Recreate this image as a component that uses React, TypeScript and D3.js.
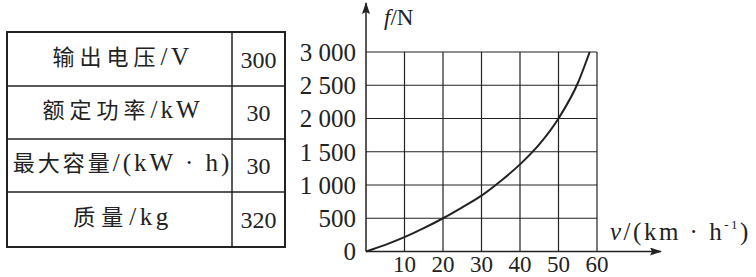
import React from "react";
import * as d3 from "d3";

const tableNames = ["输出电压", "额定功率", "最大容量", "质量"];
const tableUnits = ["/V", "/kW", "/(kW · h)", "/kg"];
const tableValues = ["300", "30", "30", "320"];

const speeds = [0, 5, 10, 15, 20, 25, 30, 35, 40, 45, 50, 55, 58.1];
const forces = [0, 100, 215, 350, 500, 665, 840, 1060, 1310, 1610, 2000, 2530, 3000];

const xTicks = [10, 20, 30, 40, 50, 60];
const yTicks = [0, 500, 1000, 1500, 2000, 2500, 3000];
const yTickLabels = ["0", "500", "1 000", "1 500", "2 000", "2 500", "3 000"];

const INK = "#222";
const SERIF = "'Liberation Serif', 'Times New Roman', serif";
const CJK = "'Noto Sans CJK SC', sans-serif";

export default function App() {
  const W = 756, H = 277;
  const x = d3.scaleLinear().domain([0, 60]).range([366, 597]);
  const y = d3.scaleLinear().domain([0, 3000]).range([251.5, 52]);

  const line = d3
    .line<number>()
    .x((_, i) => x(speeds[i]))
    .y((d) => y(d))
    .curve(d3.curveMonotoneX);

  // table geometry
  const tL = 7, tR = 285, tDiv = 232;
  const rowEdges = [32, 86, 139, 192, 247];
  const nameSpacing = [5, 5, 3, 6];
  const unitSpacing = [3.5, 3, 3, 3.5];

  return (
    <svg width={W} height={H} style={{ position: "absolute", left: 0, top: 0, background: "#fff" }}>
      <defs>
        <marker id="arr" viewBox="0 0 12 8" refX="11" refY="4" markerWidth="12" markerHeight="8" markerUnits="userSpaceOnUse" orient="auto">
          <path d="M0,0 L12,4 L0,8 L2,4 Z" fill={INK} />
        </marker>
      </defs>

      {/* Table */}
      <rect x={tL} y={rowEdges[0]} width={tR - tL} height={rowEdges[4] - rowEdges[0]} fill="none" stroke={INK} strokeWidth={2} />
      <line x1={tDiv} x2={tDiv} y1={rowEdges[0]} y2={rowEdges[4]} stroke={INK} strokeWidth={1.5} />
      {rowEdges.slice(1, 4).map((r, i) => (
        <line key={i} x1={tL} x2={tR} y1={r} y2={r} stroke={INK} strokeWidth={1.5} />
      ))}
      {tableNames.map((t, i) => {
        const cy = (rowEdges[i] + rowEdges[i + 1]) / 2;
        return (
          <text key={"l" + i} x={(tL + tDiv) / 2 + 3} y={cy} dy="0.36em" textAnchor="middle" fill={INK}>
            <tspan fontFamily={CJK} fontSize={22} letterSpacing={nameSpacing[i]}>{t}</tspan>
            <tspan fontFamily={SERIF} fontSize={25} letterSpacing={unitSpacing[i]}>{tableUnits[i]}</tspan>
          </text>
        );
      })}
      {tableValues.map((t, i) => {
        const cy = (rowEdges[i] + rowEdges[i + 1]) / 2;
        return (
          <text key={"v" + i} x={(tDiv + tR) / 2} y={cy} dy="0.36em" textAnchor="middle"
            fontFamily={SERIF} fontSize={24} fill={INK}>{t}</text>
        );
      })}

      {/* Grid */}
      {xTicks.map((t) => (
        <line key={"gx" + t} x1={x(t)} x2={x(t)} y1={y(0)} y2={y(3000)} stroke={INK} strokeWidth={1.2} />
      ))}
      {yTicks.slice(1).map((t) => (
        <line key={"gy" + t} x1={x(0)} x2={x(60)} y1={y(t)} y2={y(t)} stroke={INK} strokeWidth={1.2} />
      ))}

      {/* Axes */}
      <line x1={x(0)} x2={x(0)} y1={y(0)} y2={3} stroke={INK} strokeWidth={1.5} markerEnd="url(#arr)" />
      <line x1={x(0)} x2={661} y1={y(0)} y2={y(0)} stroke={INK} strokeWidth={1.5} markerEnd="url(#arr)" />

      {/* Curve */}
      <path d={line(forces) || ""} fill="none" stroke={INK} strokeWidth={2} />

      {/* Tick labels */}
      {yTicks.map((t, i) => (
        <text key={"ty" + t} x={356} y={y(t)} dy="0.35em" textAnchor="end" fontFamily={SERIF} fontSize={25} fill={INK}>
          {yTickLabels[i]}
        </text>
      ))}
      {xTicks.map((t) => (
        <text key={"tx" + t} x={x(t)} y={272} textAnchor="middle" fontFamily={SERIF} fontSize={23} fill={INK}>
          {t}
        </text>
      ))}

      {/* Axis titles */}
      <text x={384} y={25} fontFamily={SERIF} fontSize={23} fill={INK}>
        <tspan fontStyle="italic">f</tspan>/N
      </text>
      <text x={610} y={240} fontFamily={SERIF} fontSize={25} fill={INK} letterSpacing={2.5}>
        <tspan fontStyle="italic">v</tspan>/(km · h<tspan fontSize={13} dy={-11}>-1</tspan><tspan dy={11}>)</tspan>
      </text>
    </svg>
  );
}
